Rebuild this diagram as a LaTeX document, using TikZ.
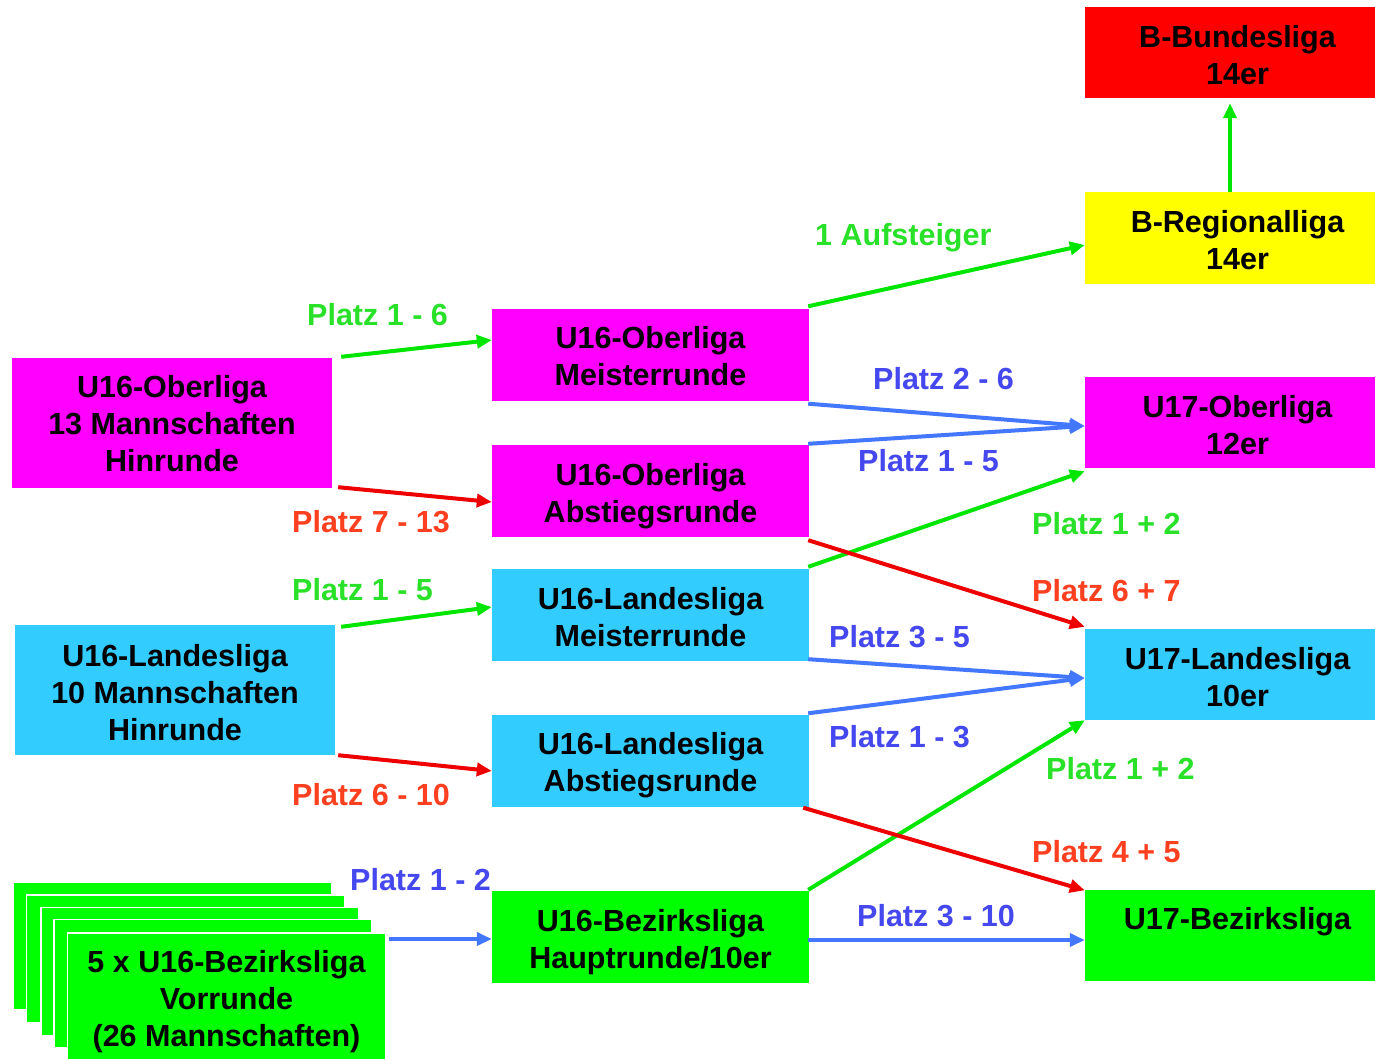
\documentclass[tikz,border=0pt]{standalone}
\usepackage{fontspec}
\setmainfont{Liberation Sans}
\usetikzlibrary{calc,arrows.meta}
\definecolor{cmag}{RGB}{255,0,255}
\definecolor{ccyan}{RGB}{51,204,255}
\definecolor{cgreen}{RGB}{0,255,0}
\definecolor{cred}{RGB}{255,0,0}
\definecolor{cyel}{RGB}{255,255,0}
\definecolor{agreen}{RGB}{0,230,0}
\definecolor{ablue}{RGB}{68,119,255}
\definecolor{ared}{RGB}{238,0,0}
\definecolor{lgreen}{RGB}{40,225,40}
\definecolor{lblue}{RGB}{68,72,238}
\definecolor{lred}{RGB}{255,64,32}
\begin{document}
\begin{tikzpicture}[x=1pt,y=-1pt,
  txt/.style={font=\fontsize{30.5}{37}\selectfont\bfseries},
  bt/.style={txt,align=center,inner sep=0pt,anchor=north,yshift=-18pt},
  box/.style={inner sep=0pt,minimum width=#1},
  smallbox/.style={box=305pt,minimum height=91pt},
  midbox/.style={box=317pt,minimum height=92pt},
  bigbox/.style={box=320pt,minimum height=130pt},
  stackbox/.style={box=318pt,minimum height=128pt,fill=cgreen,draw=white,line width=1.5pt},
  lbl/.style={txt,inner sep=0pt,anchor=west},
  conn/.style={line width=4pt,-{Triangle[length=15pt,width=13pt]}},
  ]
\useasboundingbox[fill=white] (0,0) rectangle (1375,1059);
% right column (boxes run past the right edge)
\node[smallbox,fill=cred,label={[bt]north:B-Bundesliga\\14er}] (bb) at (1237.5,52.5) {};
\node[smallbox,fill=cyel,label={[bt]north:B-Regionalliga\\14er}] (br) at (1237.5,238) {};
\node[smallbox,fill=cmag,label={[bt]north:U17-Oberliga\\12er}] (uo17) at (1237.5,422.5) {};
\node[smallbox,fill=ccyan,label={[bt]north:U17-Landesliga\\10er}] (ul17) at (1237.5,674.5) {};
\node[smallbox,fill=cgreen,label={[bt]north:U17-Bezirksliga}] (ub17) at (1237.5,935) {};
% middle column
\node[midbox,fill=cmag,label={[bt]north:U16-Oberliga\\Meisterrunde}] (om) at (650.5,354.5) {};
\node[midbox,fill=cmag,label={[bt]north:U16-Oberliga\\Abstiegsrunde}] (oa) at (650.5,491) {};
\node[midbox,fill=ccyan,label={[bt]north:U16-Landesliga\\Meisterrunde}] (lm) at (650.5,615) {};
\node[midbox,fill=ccyan,label={[bt]north:U16-Landesliga\\Abstiegsrunde}] (la) at (650.5,760.5) {};
\node[midbox,fill=cgreen,label={[bt]north:U16-Bezirksliga\\Hauptrunde/10er}] (bh) at (650.5,937) {};
% left column
\node[bigbox,fill=cmag,label={[bt,yshift=1pt]north:U16-Oberliga\\13 Mannschaften\\Hinrunde}] (oh) at (172,423) {};
\node[bigbox,fill=ccyan,label={[bt,yshift=-1pt]north:U16-Landesliga\\10 Mannschaften\\Hinrunde}] (lh) at (175,690) {};
\node[stackbox] (b1) at (172.5,946) {};
\node[stackbox] (b2) at (185.5,959) {};
\node[stackbox] (b3) at (200,971.5) {};
\node[stackbox] (b4) at (213,983.5) {};
\node[stackbox,minimum height=130pt,label={[bt]north:5 x U16-Bezirksliga\\Vorrunde\\(26 Mannschaften)}] (b5) at (226.5,998) {};
% connectors
\draw[conn,agreen] ($(br.north)+(-7.5,0)$) -- ($(bb.south)+(-7.5,5)$);
\draw[conn,agreen] ($(om.north east)+(-1,-2)$) -- ($(br.west)+(0,7)$);
\draw[conn,agreen] ($(oh.north east)+(9,-1)$) -- ($(om.west)+(0,-14.5)$);
\draw[conn,ared] ($(oh.south east)+(6,-1)$) -- ($(oa.west)+(0,11)$);
\draw[conn,ablue] ($(om.south east)+(-1,3)$) -- ($(uo17.west)+(0,3.5)$);
\draw[conn,ablue] ($(oa.north east)+(-1,-1)$) -- ($(uo17.west)+(0,3.5)$);
\draw[conn,agreen] ($(lm.north east)+(-1,-2)$) -- ($(uo17.south west)+(0,3)$);
\draw[conn,ared] ($(oa.south east)+(-1,3)$) -- ($(ul17.north west)+(0,-2)$);
\draw[conn,agreen] ($(lh.north east)+(6,2)$) -- ($(lm.west)+(0,-8)$);
\draw[conn,ared] ($(lh.south east)+(3,0)$) -- ($(la.west)+(0,10.5)$);
\draw[conn,ablue] ($(lm.south east)+(-1,-2)$) -- ($(ul17.west)+(0,3.5)$);
\draw[conn,ablue] ($(la.north east)+(-1,-1)$) -- ($(ul17.west)+(0,3.5)$);
\draw[conn,agreen] ($(bh.north east)+(-1,-1)$) -- (ul17.south west);
\draw[conn,ared] ($(la.south east)+(-6,1)$) -- ($(ub17.north west)+(0,1)$);
\draw[conn,ablue] ($(b5.east)+(3,-59)$) -- ($(bh.west)+(0,2)$);
\draw[conn,ablue] ($(bh.east)+(-1,3)$) -- ($(ub17.west)+(0,5)$);
% labels
\node[lbl,lgreen] (l1) at (815,238) {1 Aufsteiger};
\node[lbl,lgreen] (l2) at (307,315) {Platz 1 - 6};
\node[lbl,lred] (l3) at (292,522) {Platz 7 - 13};
\node[lbl,lblue] (l4) at (873,379) {Platz 2 - 6};
\node[lbl,lblue] (l5) at (858,461) {Platz 1 - 5};
\node[lbl,lgreen] (l6) at (1032,524) {Platz 1 + 2};
\node[lbl,lred] (l7) at (1032,591) {Platz 6 + 7};
\node[lbl,lgreen] (l8) at (292,590) {Platz 1 - 5};
\node[lbl,lred] (l9) at (292,795) {Platz 6 - 10};
\node[lbl,lblue] (l10) at (829,637) {Platz 3 - 5};
\node[lbl,lblue] (l11) at (829,737) {Platz 1 - 3};
\node[lbl,lgreen] (l12) at (1046,769) {Platz 1 + 2};
\node[lbl,lred] (l13) at (1032,852) {Platz 4 + 5};
\node[lbl,lblue] (l14) at (350,880) {Platz 1 - 2};
\node[lbl,lblue] (l15) at (857,916) {Platz 3 - 10};
\end{tikzpicture}
\end{document}
